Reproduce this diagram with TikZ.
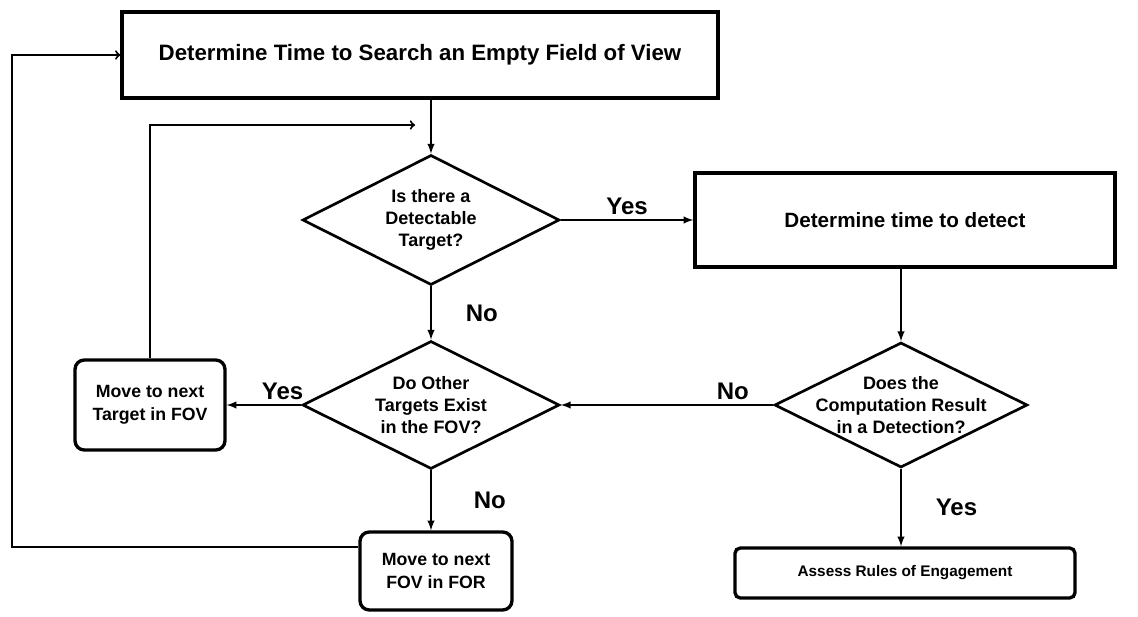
\documentclass[tikz,border=0pt]{standalone}
\usepackage{fontspec}
\setmainfont{Liberation Sans}
\usetikzlibrary{arrows,shapes.geometric}

\begin{document}
\begin{tikzpicture}[->,>=latex,x=0.75pt,y=-0.75pt,line width=1.5pt,auto]
  \tikzstyle{box}=[draw,line width=2.5pt,align=center,inner sep=0pt,
                   font=\bfseries\fontsize{15.5}{18}\selectfont]
  \tikzstyle{rbox}=[box,rounded corners=7pt,font=\bfseries\fontsize{13.3}{17}\selectfont]
  \tikzstyle{decision}=[diamond,draw,line width=2pt,aspect=2,align=center,
                        inner sep=-20pt,font=\bfseries\fontsize{13.5}{16.5}\selectfont]
  \tikzstyle{answer}=[font=\bfseries\fontsize{18}{20}\selectfont]

  \useasboundingbox (0,0) rectangle (1138,617);

  \node[box,minimum width=596*0.75pt,minimum height=86*0.75pt,
        font=\bfseries\fontsize{16.7}{19}\selectfont] (search) at (420,55)
        {Determine Time to Search an Empty Field of View};
  \node[decision,minimum width=257*0.75pt,minimum height=130*0.75pt] (d1) at (431,220)
        {Is there a\\Detectable\\Target?};
  \node[box,minimum width=420*0.75pt,minimum height=94*0.75pt] (detect) at (905,220)
        {Determine time to detect};
  \node[decision,minimum width=257*0.75pt,minimum height=128*0.75pt] (d2) at (431,405)
        {Do Other\\Targets Exist\\in the FOV?};
  \node[decision,minimum width=253*0.75pt,minimum height=125*0.75pt] (d3) at (901,405)
        {Does the\\Computation Result\\in a Detection?};
  \node[rbox,minimum width=150*0.75pt,minimum height=90*0.75pt] (mt) at (150,405)
        {Move to next\\Target in FOV};
  \node[rbox,minimum width=152*0.75pt,minimum height=78*0.75pt] (mf) at (436,571)
        {Move to next\\FOV in FOR};
  \node[rbox,rounded corners=4pt,minimum width=340*0.75pt,minimum height=50*0.75pt,
        font=\bfseries\fontsize{11.5}{13}\selectfont] (roe) at (905,573)
        {Assess Rules of Engagement};

  \coordinate (back) at (415,125);
  \coordinate (left) at (12,547);

  \draw (d1.north |- search.south) -- (d1.north);
  \path (d1) edge node[answer] {Yes} (detect)
        (d1) edge node[answer,right,xshift=22pt] {No} (d2)
        (d3) edge node[answer,above,pos=0.19] {No} (d2)
        (d2) edge node[answer,above,pos=0.25] {Yes} (mt);
  \draw (d3.north |- detect.south) -- (d3.north);
  \draw (d2.south) -- node[answer,right,xshift=28pt] {No} (d2.south |- mf.north);
  \draw (d3.south) -- node[answer,right,xshift=22pt] {Yes} (d3.south |- roe.north);
  \draw[-to] (mt.north) |- (back);
  \draw[-to] (mf.west |- left) -- (left) |- (search.west);
\end{tikzpicture}
\end{document}
